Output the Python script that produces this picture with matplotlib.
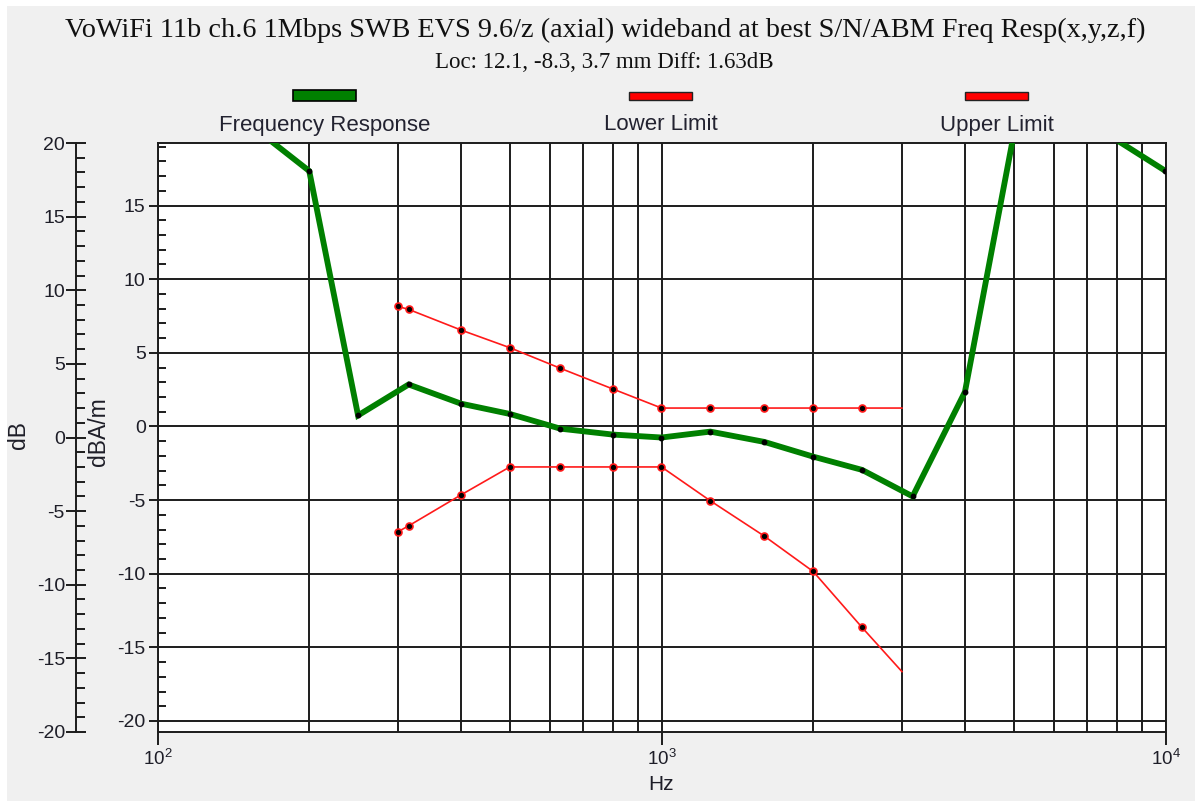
import matplotlib
matplotlib.use('Agg')
import matplotlib.pyplot as plt
from matplotlib.ticker import MultipleLocator, LogLocator, NullFormatter, LogFormatterSciNotation
from matplotlib.patches import Rectangle

# ---------------- data ----------------
freq_resp_hz = [160, 200, 250, 315, 400, 500, 630, 800, 1000, 1250, 1600,
                2000, 2500, 3150, 4000, 5000, 6300, 8000, 10000]
freq_resp_db = [20.7, 18.1, 1.5, 3.6, 2.3, 1.6, 0.6, 0.2, 0.0, 0.4, -0.3,
                -1.3, -2.2, -4.0, 3.1, 20.6, 26.0, 20.2, 18.1]

limit_hz = [300, 315, 400, 500, 630, 800, 1000, 1250, 1600, 2000, 2500, 3000]
lower_db = [-6.4, -6.0, -3.9, -2.0, -2.0, -2.0, -2.0, -4.3, -6.7, -9.1, -12.9, -15.9]
upper_db = [8.9, 8.7, 7.3, 6.1, 4.7, 3.3, 2.0, 2.0, 2.0, 2.0, 2.0, 2.0]

series_labels = ["Frequency Response", "Lower Limit", "Upper Limit"]
title = "VoWiFi 11b ch.6 1Mbps SWB EVS 9.6/z (axial) wideband at best S/N/ABM Freq Resp(x,y,z,f)"
subtitle = "Loc: 12.1, -8.3, 3.7 mm Diff: 1.63dB"
dbam_offset = 0.75   # dBA/m scale = dB scale - offset

# ---------------- figure ----------------
plt.rcParams['font.family'] = ['Liberation Sans', 'DejaVu Sans']
plt.rcParams['mathtext.default'] = 'regular'
plt.rcParams['axes.unicode_minus'] = False

W, H = 1195, 801
fig = plt.figure(figsize=(W / 100, H / 100), dpi=100)
fig.patch.set_facecolor('white')

def fx(px):
    return px / W

def fy(py):
    return 1 - py / H

fig.add_artist(Rectangle((fx(7), 0), 1, fy(6), transform=fig.transFigure,
                         facecolor='#f0f0f0', edgecolor='none', zorder=-10))

GRID = '#1c1c1c'
TXT = '#1e1e28'

x0, x1, ytop, ybot = 157.5, 1165.5, 143, 732
ax = fig.add_axes([fx(x0), fy(ybot), fx(x1) - fx(x0), fy(ytop) - fy(ybot)])
ax.set_facecolor('white')
ax.set_xscale('log')
ax.set_xlim(100, 10000)
ax.set_ylim(-20 - dbam_offset, 20 - dbam_offset)

ax.xaxis.set_major_locator(LogLocator(base=10, numticks=10))
ax.xaxis.set_minor_locator(LogLocator(base=10, subs=range(2, 10), numticks=20))
ax.xaxis.set_minor_formatter(NullFormatter())
ax.xaxis.set_major_formatter(LogFormatterSciNotation())
ax.yaxis.set_major_locator(MultipleLocator(5))
ax.yaxis.set_minor_locator(MultipleLocator(1))

ax.grid(which='major', axis='y', color=GRID, lw=1.4)
ax.grid(which='both', axis='x', color=GRID, lw=1.4)
ax.set_axisbelow(True)
for s in ax.spines.values():
    s.set_color(GRID)
    s.set_linewidth(1.4)

ax.tick_params(axis='x', which='major', direction='out', length=9.5, width=1.4,
               color=GRID, labelsize=13.5, labelcolor=TXT, pad=3)
ax.tick_params(axis='x', which='minor', length=0)
ax.tick_params(axis='y', which='major', direction='out', length=6.5, width=1.4,
               color=GRID, labelsize=14, labelcolor=TXT, pad=2)
ax.tick_params(axis='y', which='minor', direction='in', length=6, width=1.4, color=GRID)

# outer dB axis (carries the data)
axd = ax.twinx()
axd.set_ylim(-20, 20)
axd.yaxis.tick_left()
axd.spines['left'].set_position(('axes', (76 - x0) / (x1 - x0)))
axd.spines['left'].set_visible(True)
axd.spines['left'].set_bounds(-20, 20)
axd.spines['left'].set_color(GRID)
axd.spines['left'].set_linewidth(1.4)
for k in ('right', 'top', 'bottom'):
    axd.spines[k].set_visible(False)
axd.yaxis.set_major_locator(MultipleLocator(5))
axd.yaxis.set_minor_locator(MultipleLocator(1))
axd.tick_params(axis='y', which='major', direction='inout', length=14, width=1.4,
                color=GRID, labelsize=14, labelcolor=TXT, pad=1)
axd.tick_params(axis='y', which='minor', direction='in', length=6.5, width=1.4, color=GRID)

# data
axd.plot(freq_resp_hz, freq_resp_db, color='#008000', lw=4.2, solid_joinstyle='miter',
         marker='o', ms=3.2, mfc='black', mec='black', zorder=3)
axd.plot(limit_hz, lower_db, color='#ff1a1a', lw=1.2, marker='o', ms=5,
         mfc='black', mec='#ff1a1a', mew=1.2, markevery=list(range(len(limit_hz) - 1)), zorder=4)
axd.plot(limit_hz, upper_db, color='#ff1a1a', lw=1.2, marker='o', ms=5,
         mfc='black', mec='#ff1a1a', mew=1.2, markevery=list(range(len(limit_hz) - 1)), zorder=4)

# axis labels
fig.text(fx(18), fy(435), 'dB', rotation=90, ha='center', va='center', fontsize=16.5, color=TXT)
fig.text(fx(99), fy(432), 'dBA/m', rotation=90, ha='center', va='center', fontsize=16.5, color=TXT)
fig.text(fx(661), fy(785), 'Hz', ha='center', va='center', fontsize=15, color=TXT)

# titles
fig.text(fx(605), fy(30), title, ha='center', va='center', fontsize=20.3,
         family='Liberation Serif', color='#111111')
fig.text(fx(604), fy(62), subtitle, ha='center', va='center', fontsize=16.5,
         family='Liberation Serif', color='#111111')

# legend
fig.add_artist(Rectangle((fx(293), fy(101)), fx(63), 11 / H, transform=fig.transFigure,
                         facecolor='#008000', edgecolor='black', lw=1.2))
for cx in (660.5, 996.5):
    fig.add_artist(Rectangle((fx(cx - 31.5), fy(99.5)), fx(63), 7 / H, transform=fig.transFigure,
                             facecolor='#ff0000', edgecolor='#222222', lw=1.0))
for cx, lab in zip((325, 661, 997), series_labels):
    fig.text(fx(cx), fy(125), lab, ha='center', va='center', fontsize=16, color='#222230')

fig.savefig('out.png', dpi=100, facecolor=fig.get_facecolor())
